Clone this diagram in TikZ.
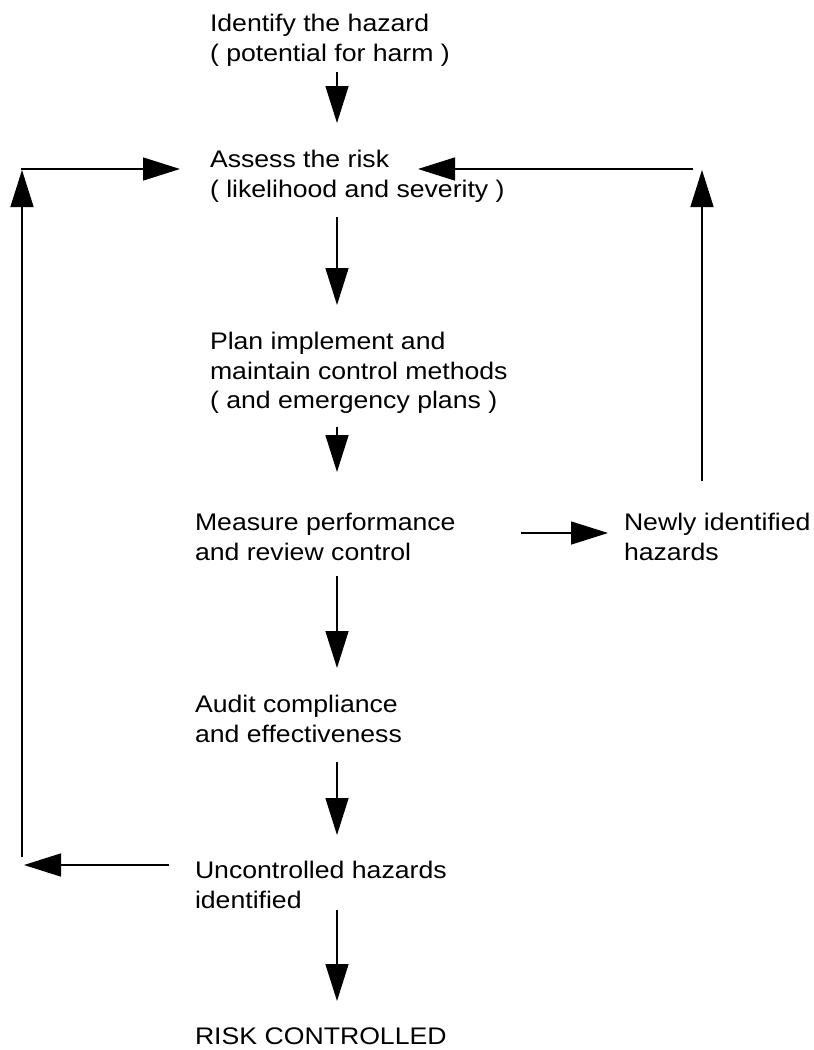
\documentclass[tikz,border=0pt]{standalone}
\usepackage{fontspec}
\setmainfont{Liberation Sans}[FakeStretch=1.11]
\usetikzlibrary{arrows.meta,calc}
\tikzset{
  lbl/.style={anchor=north west, inner sep=0pt, outer sep=0pt, align=left,
    font=\fontsize{24}{29.5}\selectfont},
  arr/.style={line width=1.5pt, -{Triangle[length=37pt,width=23pt]}}
}
\begin{document}
\begin{tikzpicture}[x=1pt,y=-1pt]
\useasboundingbox (0,0) rectangle (814,1050);
% nodes
\node[lbl] (id) at (210,14.5) {Identify the hazard\\( potential for harm )};
\node[lbl] (as) at (210,150.5) {Assess the risk\\( likelihood and severity )};
\node[lbl] (pl) at (210,332.5) {Plan implement and\\maintain control methods\\( and emergency plans )};
\node[lbl] (ms) at (195,513.5) {Measure performance\\and review control};
\node[lbl] (nw) at (624,513.5) {Newly identified\\hazards};
\node[lbl] (au) at (195,695.5) {Audit compliance\\and effectiveness};
\node[lbl] (un) at (195,861.5) {Uncontrolled hazards\\identified};
\node[lbl] (rc) at (195,1027.5) {RISK CONTROLLED};
% helper coordinates
\coordinate (ax) at (337,0);
\coordinate (rowM) at (0,533);
\coordinate (cR) at (702,169);
\coordinate (cL) at (22,169);
\coordinate (cLb) at (22,865);
% main column
\draw[arr, shorten <=5.5pt, shorten >=27.5pt] (id.south -| ax) -- (as.north -| ax);
\draw[arr, shorten <=14.5pt, shorten >=27.5pt] (as.south -| ax) -- (pl.north -| ax);
\draw[arr, shorten <=13pt, shorten >=41.5pt] (pl.south -| ax) -- (ms.north -| ax);
\draw[arr, shorten <=15pt, shorten >=27.5pt] (ms.south -| ax) -- (au.north -| ax);
\draw[arr, shorten <=19pt, shorten >=26.5pt] (au.south -| ax) -- (un.north -| ax);
\draw[arr, shorten <=1pt, shorten >=26.5pt] (un.south -| ax) -- (rc.north -| ax);
% right loop
\draw[arr, shorten <=65pt, shorten >=16pt] (ms.east |- rowM) -- (nw.west |- rowM);
\draw[arr, shorten <=32.5pt, shorten >=1pt] (nw.north -| cR) -- (cR);
\draw[arr] ([xshift=-9pt]cR) -- ($(as.north west)+(208,18.5)$);
% left loop
\draw[arr, shorten <=26pt, shorten >=2pt] (un.west |- cLb) -- (cLb);
\draw[arr, shorten <=8pt, shorten >=1pt] (cLb) -- (cL);
\draw[arr, shorten >=30pt] ([xshift=-1pt]cL) -- (as.west |- cL);
\end{tikzpicture}
\end{document}
